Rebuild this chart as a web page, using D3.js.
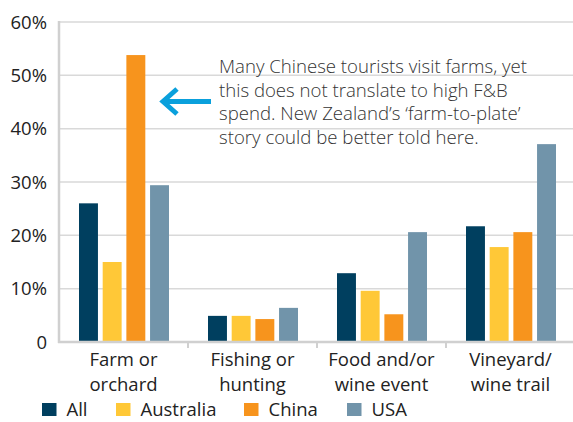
<!DOCTYPE html>
<html>
<head>
<meta charset="utf-8">
<script src="https://cdn.jsdelivr.net/npm/d3@7"></script>
<style>
  html, body { margin: 0; padding: 0; background: #fff; }
  svg { display: block; font-family: "Open Sans", "Noto Sans", sans-serif; }
</style>
</head>
<body>
<svg id="chart" width="573" height="422"></svg>
<script>
const categories = [["Farm or", "orchard"], ["Fishing or", "hunting"], ["Food and/or", "wine event"], ["Vineyard/", "wine trail"]];
const seriesNames = ["All", "Australia", "China", "USA"];
const allValues = [26.0, 4.9, 12.9, 21.7];
const australiaValues = [15.0, 4.9, 9.6, 17.8];
const chinaValues = [53.8, 4.3, 5.2, 20.6];
const usaValues = [29.4, 6.4, 20.6, 37.1];
const yTicks = [0, 10, 20, 30, 40, 50, 60];
const note = [
  "Many Chinese tourists visit farms, yet",
  "this does not translate to high F&B",
  "spend. New Zealand\u2019s \u2018farm-to-plate\u2019",
  "story could be better told here."
];

const colors = ["#003f5f", "#ffc837", "#f7941d", "#7194aa"];
const seriesValues = [allValues, australiaValues, chinaValues, usaValues];

const svg = d3.select("#chart");
const margin = { left: 59, top: 22, bottom: 342 };
const bandW = 129;

const x = d3.scaleBand()
  .domain(d3.range(categories.length))
  .range([margin.left, margin.left + bandW * categories.length])
  .padding(0);

const xs = d3.scaleBand()
  .domain(seriesNames)
  .range([20, 110])
  .paddingInner(0.2)
  .paddingOuter(0);

const y = d3.scaleLinear().domain([0, 60]).range([margin.bottom, margin.top]);

// gridlines
svg.append("g")
  .selectAll("line")
  .data(yTicks.filter(d => d > 0))
  .join("line")
  .attr("x1", margin.left)
  .attr("x2", 573)
  .attr("y1", d => y(d))
  .attr("y2", d => y(d))
  .attr("stroke", "#d9d9d9")
  .attr("stroke-width", 1.5);

// y tick labels
svg.append("g")
  .selectAll("text")
  .data(yTicks)
  .join("text")
  .attr("x", 47)
  .attr("y", d => y(d))
  .attr("dy", "0.36em")
  .attr("text-anchor", "end")
  .attr("font-size", 18.5)
  .attr("fill", "#222")
  .text(d => d === 0 ? "0" : d + "%");

// bars
const groups = svg.append("g")
  .selectAll("g")
  .data(seriesNames)
  .join("g")
  .attr("fill", (d, i) => colors[i]);

groups.selectAll("rect")
  .data((s, i) => seriesValues[i].map((v, c) => ({ s, v, c })))
  .join("rect")
  .attr("x", d => x(d.c) + xs(d.s))
  .attr("width", xs.bandwidth())
  .attr("y", d => y(d.v))
  .attr("height", d => y(0) - y(d.v));

// axes lines
svg.append("line")
  .attr("x1", margin.left).attr("x2", margin.left)
  .attr("y1", y(60) - 1).attr("y2", y(0) + 1)
  .attr("stroke", "#d0d0d0").attr("stroke-width", 2.5);

svg.append("line")
  .attr("x1", margin.left - 1).attr("x2", 573)
  .attr("y1", y(0)).attr("y2", y(0))
  .attr("stroke", "#d0d0d0").attr("stroke-width", 2.5);

svg.append("g")
  .selectAll("line")
  .data(d3.range(1, categories.length))
  .join("line")
  .attr("x1", d => x(d)).attr("x2", d => x(d))
  .attr("y1", y(0)).attr("y2", y(0) + 6)
  .attr("stroke", "#d0d0d0").attr("stroke-width", 2);

// category labels
const catLabels = svg.append("g")
  .selectAll("text")
  .data(categories)
  .join("text")
  .attr("text-anchor", "middle")
  .attr("font-size", 18.5)
  .attr("fill", "#222");

catLabels.selectAll("tspan")
  .data((d, i) => d.map(t => ({ t, i })))
  .join("tspan")
  .attr("x", d => x(d.i) + bandW / 2)
  .attr("y", (d, j) => 366 + j * 24.5)
  .text(d => d.t);

// legend
const legendX = [42, 116, 244, 347];
const legend = svg.append("g")
  .selectAll("g")
  .data(seriesNames)
  .join("g")
  .attr("transform", (d, i) => `translate(${legendX[i]},403)`);

legend.append("rect")
  .attr("width", 14.5)
  .attr("height", 13)
  .attr("fill", (d, i) => colors[i]);

legend.append("text")
  .attr("x", 24.5)
  .attr("y", 12.8)
  .attr("font-size", 18.5)
  .attr("fill", "#222")
  .text(d => d);

// annotation
svg.append("g")
  .selectAll("text")
  .data(note)
  .join("text")
  .attr("x", 219)
  .attr("y", (d, i) => 73 + i * 23.5)
  .attr("font-size", 18.6)
  .attr("font-weight", 300)
  .attr("fill", "#333")
  .text(d => d);

// arrow
const arrow = svg.append("g")
  .attr("stroke", "#0aa0dc")
  .attr("stroke-width", 5)
  .attr("fill", "none");
arrow.append("line")
  .attr("x1", 163).attr("x2", 211)
  .attr("y1", 101.5).attr("y2", 101.5);
arrow.append("polyline")
  .attr("points", "177,89 163,101.5 177,114")
  .attr("stroke-linejoin", "miter");
</script>
</body>
</html>
